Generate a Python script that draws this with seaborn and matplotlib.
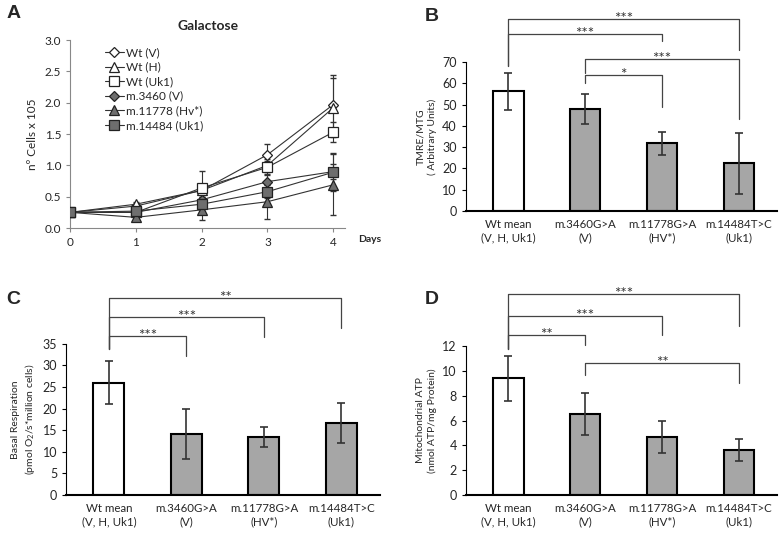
import numpy as np
import matplotlib
matplotlib.use("Agg")
import matplotlib.pyplot as plt
import seaborn as sns

# panel A: growth in galactose
days = [0, 1, 2, 3, 4]
wt_v = [0.25, 0.35, 0.60, 1.17, 1.97]
wt_h = [0.25, 0.38, 0.60, 1.00, 1.92]
wt_uk1 = [0.25, 0.25, 0.64, 0.97, 1.53]
m3460 = [0.25, 0.25, 0.45, 0.74, 0.90]
m11778 = [0.25, 0.17, 0.29, 0.42, 0.69]
m14484 = [0.25, 0.27, 0.38, 0.58, 0.89]
wt_v_err = [0.0, 0.03, 0.10, 0.17, 0.48]
wt_h_err = [0.0, 0.03, 0.10, 0.10, 0.47]
wt_uk1_err = [0.0, 0.03, 0.27, 0.10, 0.16]
m3460_err = [0.0, 0.03, 0.08, 0.10, 0.12]
m11778_err = [0.0, 0.03, 0.17, 0.28, 0.49]
m14484_err = [0.0, 0.03, 0.08, 0.10, 0.30]
series_names = ["Wt (V)", "Wt (H)", "Wt (Uk1)", "m.3460 (V)", "m.11778 (Hv*)", "m.14484 (Uk1)"]

# panels B-D
groups = ["Wt mean\n(V, H, Uk1)", "m.3460G>A\n(V)", "m.11778G>A\n(HV*)", "m.14484T>C\n(Uk1)"]
tmre_mean = [56.2, 47.8, 31.8, 22.3]
tmre_err = [8.7, 7.1, 5.4, 14.3]
resp_mean = [26.0, 14.2, 13.5, 16.7]
resp_err = [5.0, 5.8, 2.3, 4.6]
atp_mean = [9.4, 6.5, 4.7, 3.6]
atp_err = [1.8, 1.7, 1.3, 0.9]

# significance brackets: (from, to, height, left end, right end, label)
tmre_sig = [(0, 3, 90.1, 68, 75.6, "***"), (0, 2, 83.1, 68, 80, "***"),
            (1, 3, 71.4, 65, 43, "***"), (1, 2, 63.9, 60, 49, "*")]
resp_sig = [(0, 3, 45.7, 33.9, 38.7, "**"), (0, 2, 41.3, 33.9, 36.7, "***"),
            (0, 1, 36.9, 33.9, 32.3, "***")]
atp_sig = [(0, 3, 16.2, 11.8, 13.6, "***"), (0, 2, 14.4, 11.8, 12.9, "***"),
           (0, 1, 12.9, 11.8, 12.1, "**"), (1, 3, 10.6, 9.7, 9.0, "**")]

sns.set_style("white")
plt.rcParams["font.family"] = ["Lato", "DejaVu Sans"]
plt.rcParams["mathtext.fontset"] = "custom"
plt.rcParams["mathtext.rm"] = "Lato"

fig = plt.figure(figsize=(7.79, 5.34), dpi=100)

# ---------- A ----------
axA = fig.add_axes([0.090, 0.573, 0.353, 0.352])
vals = [wt_v, wt_h, wt_uk1, m3460, m11778, m14484]
errs = [wt_v_err, wt_h_err, wt_uk1_err, m3460_err, m11778_err, m14484_err]
markers = ["D", "^", "s", "D", "^", "s"]
msizes = [5.5, 6.5, 7, 5.5, 6.5, 7]
faces = ["white", "white", "white", "#6e6e6e", "#6e6e6e", "#6e6e6e"]
for v, e, name, mk, ms, fc in zip(vals, errs, series_names, markers, msizes, faces):
    axA.errorbar(days, v, yerr=e, fmt="none", ecolor="#333333", elinewidth=0.8,
                 capsize=2, zorder=2)
    sns.lineplot(x=days, y=v, ax=axA, color="#333333", linewidth=0.8,
                 marker=mk, markersize=ms, markerfacecolor=fc,
                 markeredgecolor="#222222", markeredgewidth=0.9, label=name, zorder=3)
axA.set_xlim(0, 4.18)
axA.set_ylim(0, 3.0)
axA.set_xticks(days)
axA.set_yticks(np.arange(0, 3.01, 0.5))
axA.set_yticklabels([f"{t:.1f}" for t in np.arange(0, 3.01, 0.5)])
axA.tick_params(labelsize=8.5, length=3, direction="out", color="#888888")
for s in ["top", "right"]:
    axA.spines[s].set_visible(False)
for s in ["left", "bottom"]:
    axA.spines[s].set_color("#888888")
    axA.spines[s].set_linewidth(0.8)
axA.set_ylabel("nº Cells x 105", fontsize=8.5, labelpad=5)
axA.set_title("Galactose", fontsize=10, fontweight="bold", pad=7)
axA.text(1.09, -0.035, "Days", transform=axA.transAxes, fontsize=7.5,
         fontweight="bold", ha="center", va="top")
axA.legend(loc="upper left", bbox_to_anchor=(0.1, 1.0), frameon=False, fontsize=8.5,
           handlelength=1.6, handletextpad=0.2, labelspacing=0.3, borderaxespad=0.2)
axA.xaxis.set_ticks_position("bottom")
axA.yaxis.set_ticks_position("left")


def bar_panel(rect, means, errors, ylim, yticks, ylabel, sigs, label_pad):
    ax = fig.add_axes(rect)
    sns.barplot(x=groups, y=means, hue=groups, legend=False, ax=ax, width=0.4,
                palette=["white", "#a6a6a6", "#a6a6a6", "#a6a6a6"],
                edgecolor="black", linewidth=1.5, zorder=2)
    ax.errorbar(range(len(groups)), means, yerr=errors, fmt="none",
                ecolor="#333333", elinewidth=1.2, capsize=3, capthick=1.2, zorder=3)
    ax.set_xlim(-0.55, 3.5)
    ax.set_ylim(*ylim)
    ax.set_yticks(yticks)
    ax.tick_params(axis="y", labelsize=9, length=3, direction="out", color="black")
    ax.tick_params(axis="x", labelsize=8.3, length=0, pad=6)
    for s in ["top", "right"]:
        ax.spines[s].set_visible(False)
    ax.spines["left"].set_linewidth(0.8)
    ax.spines["bottom"].set_linewidth(1.5)
    ax.spines["left"].set_color("black")
    ax.spines["bottom"].set_color("black")
    ax.yaxis.set_ticks_position("left")
    ax.set_ylabel(ylabel, fontsize=7.5, labelpad=label_pad, linespacing=1.3)
    ax.set_xlabel("")
    for i, j, h, yl, yr, lab in sigs:
        ax.plot([i, i, j, j], [yl, h, h, yr], color="#444444", lw=0.9,
                clip_on=False, zorder=4)
        ax.text((i + j) / 2, h, lab, ha="center", va="center", fontsize=11,
                color="#333333")
    return ax


bar_panel([0.598, 0.605, 0.400, 0.279], tmre_mean, tmre_err, (0, 70),
          range(0, 71, 10), "TMRE/MTG\n( Arbitrary Units)", tmre_sig, 4)
bar_panel([0.085, 0.073, 0.403, 0.283], resp_mean, resp_err, (0, 35),
          range(0, 36, 5), "Basal Respiration\n(pmol O$_2$/s*million cells)", resp_sig, 4)
bar_panel([0.598, 0.073, 0.400, 0.279], atp_mean, atp_err, (0, 12),
          range(0, 13, 2), "Mitochondrial ATP\n(nmol ATP/mg Protein)", atp_sig, 4)

for x, y, lab in [(0.008, 0.99, "A"), (0.545, 0.985, "B"), (0.008, 0.455, "C"), (0.545, 0.455, "D")]:
    fig.text(x, y, lab, fontsize=14, fontweight="bold", ha="left", va="top",
             family=["Liberation Sans", "DejaVu Sans"])

fig.savefig("out.png", dpi=100)
